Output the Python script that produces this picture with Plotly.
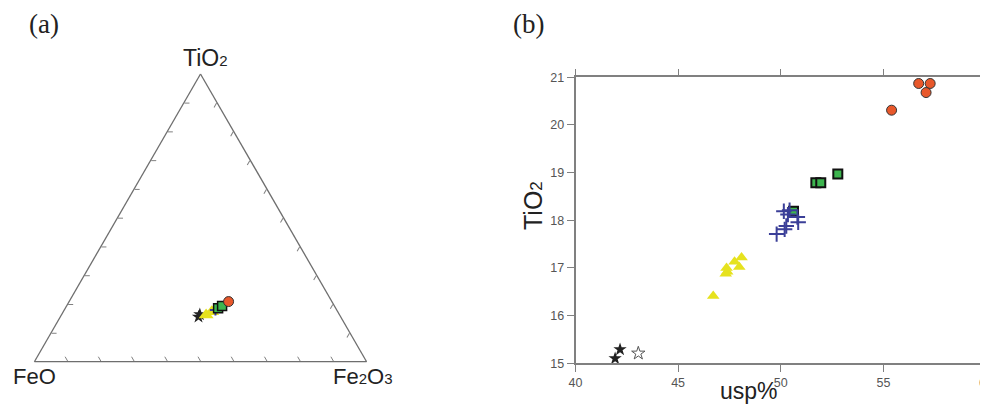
import plotly.graph_objects as go

# ---------------- data: panel (b) usp% vs TiO2 ----------------
circ_usp = [55.4, 56.72, 57.28, 57.08]
circ_ti = [20.31, 20.87, 20.87, 20.68]

sq_usp = [51.71, 51.95, 52.78, 50.62]
sq_ti = [18.79, 18.79, 18.97, 18.19]

cross_usp = [49.80, 50.19, 50.27, 50.15, 50.43, 50.81, 50.85, 50.35]
cross_ti = [17.71, 17.81, 17.88, 18.19, 18.21, 18.07, 17.96, 18.12]

tri_usp = [46.71, 47.39, 47.36, 47.75, 47.98, 48.09, 47.32]
tri_ti = [16.41, 16.92, 17.00, 17.13, 17.02, 17.22, 16.88]

star_usp = [41.93, 42.17]
star_ti = [15.10, 15.29]

ostar_usp = [43.06]
ostar_ti = [15.21]

# ---------------- data: panel (a) ternary (TiO2, FeO, Fe2O3) ----------------
t_star_a = [15.6, 16.4]
t_star_b = [42.8, 42.0]
t_star_c = [41.6, 41.6]

t_tri_a = [16.2, 17.4, 18.2]
t_tri_b = [40.2, 37.9, 36.3]
t_tri_c = [43.6, 44.7, 45.5]

t_cross_a = [18.0]
t_cross_b = [36.5]
t_cross_c = [45.5]

t_sq_a = [18.6, 19.4]
t_sq_b = [35.4, 33.8]
t_sq_c = [46.0, 46.8]

t_circ_a = [20.9]
t_circ_b = [31.1]
t_circ_c = [48.0]

x_ticks = [40, 45, 50, 55, 60]
y_ticks = [15, 16, 17, 18, 19, 20, 21]

ORANGE = "#e8582b"
GREEN = "#3db54f"
BLUE = "#3b3f98"
YELLOW = "#e6e21e"
DARK = "#222222"
AXC = "#808080"
TXT = "#222222"

W, H = 988, 406
OFF = 8  # the page body offsets the figure by 8px


def px(x):
    return (x - OFF) / W


def py(y):
    return (H - (y - OFF)) / H


fig = go.Figure()

# ---- ternary traces ----
fig.add_trace(go.Scatterternary(a=t_star_a, b=t_star_b, c=t_star_c, mode="markers",
    marker=dict(symbol="star", size=10, color=DARK, line=dict(width=0)), showlegend=False))
fig.add_trace(go.Scatterternary(a=t_tri_a, b=t_tri_b, c=t_tri_c, mode="markers",
    marker=dict(symbol="triangle-up", size=13, color=YELLOW, line=dict(width=0)), showlegend=False))
fig.add_trace(go.Scatterternary(a=t_cross_a, b=t_cross_b, c=t_cross_c, mode="markers",
    marker=dict(symbol="cross-thin", size=8, color=BLUE, line=dict(width=2, color=BLUE)), showlegend=False))
fig.add_trace(go.Scatterternary(a=t_sq_a, b=t_sq_b, c=t_sq_c, mode="markers",
    marker=dict(symbol="square", size=9, color=GREEN, line=dict(width=1.5, color="#111")), showlegend=False))
fig.add_trace(go.Scatterternary(a=t_circ_a, b=t_circ_b, c=t_circ_c, mode="markers",
    marker=dict(symbol="circle", size=10, color=ORANGE, line=dict(width=1, color="#333")), showlegend=False))

# ---- cartesian traces ----
fig.add_trace(go.Scatter(x=sq_usp, y=sq_ti, mode="markers",
    marker=dict(symbol="square", size=9, color=GREEN, line=dict(width=2, color="#111")), showlegend=False))
fig.add_trace(go.Scatter(x=cross_usp, y=cross_ti, mode="markers",
    marker=dict(symbol="cross-thin", size=11, color=BLUE, line=dict(width=2, color=BLUE)), showlegend=False))
fig.add_trace(go.Scatter(x=tri_usp, y=tri_ti, mode="markers",
    marker=dict(symbol="triangle-up", size=11, color=YELLOW, line=dict(width=0)), showlegend=False))
fig.add_trace(go.Scatter(x=circ_usp, y=circ_ti, mode="markers",
    marker=dict(symbol="circle", size=10, color=ORANGE, line=dict(width=1, color="#333")), showlegend=False))
fig.add_trace(go.Scatter(x=star_usp, y=star_ti, mode="markers",
    marker=dict(symbol="star", size=10, color=DARK, line=dict(width=0)), showlegend=False))
fig.add_trace(go.Scatter(x=ostar_usp, y=ostar_ti, mode="markers",
    marker=dict(symbol="star-open", size=10, color="#555", line=dict(width=1, color="#555")), showlegend=False))

tern_axis = dict(showticklabels=False, showgrid=False, ticks="inside", ticklen=5,
                 tickcolor=AXC, tickwidth=1, linecolor="#6e6e6e", linewidth=1.3,
                 tick0=0, dtick=10, title=dict(text=""))

cart_common = dict(showgrid=False, zeroline=False, showline=True, linecolor=AXC, linewidth=1.5,
                   mirror="ticks", ticks="outside", ticklen=7, tickcolor=AXC, tickwidth=1.2,
                   tickfont=dict(size=12.5, color="#555"), automargin=False)


def ann(text, x, y, size, family="Liberation Sans, Arial, sans-serif", angle=0):
    return dict(text=text, x=px(x), y=py(y), xref="paper", yref="paper",
                xanchor="center", yanchor="middle", showarrow=False, textangle=angle,
                font=dict(family=family, size=size, color=TXT))


SERIF = "Liberation Serif, Times New Roman, serif"

fig.update_layout(
    width=W, height=H,
    margin=dict(l=0, r=0, t=0, b=0),
    paper_bgcolor="white", plot_bgcolor="white",
    font=dict(family="Liberation Sans, Arial, sans-serif", color="#333"),
    ternary=dict(
        sum=100,
        bgcolor="white",
        domain=dict(x=[px(34.3), px(366.7)], y=[py(361.7), py(74)]),
        aaxis=tern_axis, baxis=tern_axis, caxis=tern_axis,
    ),
    xaxis=dict(domain=[px(575.5), px(986)], range=[40, 60], tickvals=x_ticks, **cart_common),
    yaxis=dict(domain=[py(363.3), py(77.3)], range=[15, 21], tickvals=y_ticks, **cart_common),
    annotations=[
        ann("(a)", 44, 24, 27, SERIF),
        ann("(b)", 528, 24, 27, SERIF),
        ann('TiO<span style="font-size:15px">2</span>', 205.8, 57.5, 23),
        ann("FeO", 34, 376.5, 22),
        ann('Fe<span style="font-size:15px">2</span>O<span style="font-size:15px">3</span>', 362.5, 376.5, 22),
        ann("usp%", 748.5, 391, 23),
        ann('TiO<span style="font-size:17px">2</span>', 532.5, 205.5, 25, angle=-90),
    ],
)

fig.write_html("out.html")
